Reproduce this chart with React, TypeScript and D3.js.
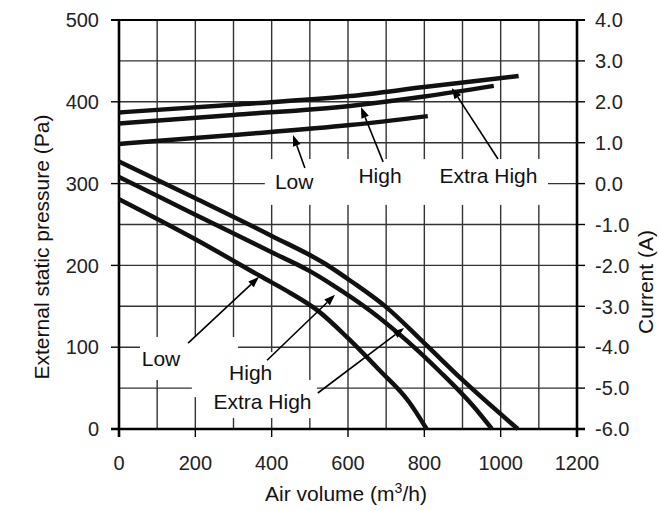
import React from 'react';
import * as d3 from 'd3';

// ---- data ----
const airTicks = [0, 200, 400, 600, 800, 1000, 1200];
const airGrid = [0, 100, 200, 300, 400, 500, 600, 700, 800, 900, 1000, 1100, 1200];
const pressureTicks = [0, 100, 200, 300, 400, 500];
const pressureGrid = [0, 50, 100, 150, 200, 250, 300, 350, 400, 450, 500];
const currentTicks = [-6, -5, -4, -3, -2, -1, 0, 1, 2, 3, 4];

// static pressure curves [air volume, Pa]
const pressureLow = [[0, 281], [200, 232], [370, 187], [450, 166], [520, 145], [600, 111], [680, 73], [760, 33], [806, 0]];
const pressureHigh = [[0, 308], [200, 262], [400, 216], [500, 193], [560, 176], [660, 144], [754, 108], [841, 70], [928, 28], [977, 0]];
const pressureExtra = [[0, 327], [200, 282], [400, 236], [540, 202], [610, 180], [700, 149], [800, 105], [900, 60], [1045, 0]];

// current curves [air volume, A]
const currentLow = [[0, 0.97], [300, 1.19], [605, 1.43], [809, 1.65]];
const currentHigh = [[0, 1.47], [300, 1.68], [605, 1.9], [800, 2.13], [982, 2.39]];
const currentExtra = [[0, 1.74], [300, 1.93], [605, 2.14], [800, 2.36], [1047, 2.63]];

// annotation labels (data coords: air, Pa)
const pressureLabels = [
  { text: 'Low', air: 110, pa: 77 },
  { text: 'High', air: 345, pa: 60 },
  { text: 'Extra High', air: 376, pa: 24.5 },
];
const currentLabels = [
  { text: 'Low', air: 459, pa: 293.4 },
  { text: 'High', air: 684, pa: 300.7 },
  { text: 'Extra High', air: 968, pa: 300.7 },
];
// white backing boxes [air0, air1, pa0, pa1]
const labelBoxes = [
  [55, 312, 60, 112.5],
  [191, 422, 39, 94],
  [212, 519, 13.4, 60],
  [382, 1124, 274, 330],
];
// pressure arrows [fromAir, fromPa, tipAir, tipPa]
const pressureArrows = [
  [181, 105, 367, 186],
  [388, 84, 566, 164],
  [521, 44, 747, 123.5],
];
// current arrows [fromAir, fromA, tipAir, tipA]
const currentArrows = [
  [487, 0.38, 456, 1.19],
  [692, 0.53, 634, 1.87],
  [993, 0.6, 872, 2.34],
];

const W = 659;
const H = 510;
const L = 119, R = 577, T = 20, B = 429;
const FONT = '"Liberation Sans", Arial, Helvetica, sans-serif';

const x = d3.scaleLinear().domain([0, 1200]).range([L, R]);
const yP = d3.scaleLinear().domain([0, 500]).range([B, T]);
const yC = d3.scaleLinear().domain([-6, 4]).range([B, T]);

function Arrow({ x1, y1, x2, y2 }: { x1: number; y1: number; x2: number; y2: number }) {
  const ang = Math.atan2(y2 - y1, x2 - x1);
  const hl = 11, hw = 4;
  const bx = x2 - hl * Math.cos(ang);
  const by = y2 - hl * Math.sin(ang);
  const px = -Math.sin(ang) * hw, py = Math.cos(ang) * hw;
  return (
    <g>
      <line x1={x1} y1={y1} x2={bx} y2={by} stroke="#000" strokeWidth={1.6} />
      <polygon points={`${x2},${y2} ${bx + px},${by + py} ${bx - px},${by - py}`} fill="#000" />
    </g>
  );
}

export default function App() {
  const lineP = d3.line<number[]>().x(d => x(d[0])).y(d => yP(d[1])).curve(d3.curveMonotoneX);
  const lineC = d3.line<number[]>().x(d => x(d[0])).y(d => yC(d[1])).curve(d3.curveMonotoneX);
  const gridColor = '#333';
  return (
    <svg width={W} height={H} style={{ position: 'absolute', left: 0, top: 0, background: '#fff' }} fontFamily={FONT}>
      <rect x={0} y={0} width={W} height={H} fill="#fff" />
      {/* grid */}
      {airGrid.map(a => (
        <line key={'gx' + a} x1={x(a)} x2={x(a)} y1={T} y2={B} stroke={gridColor} strokeWidth={1.4} />
      ))}
      {pressureGrid.map(p => (
        <line key={'gy' + p} x1={L} x2={R} y1={yP(p)} y2={yP(p)} stroke={gridColor} strokeWidth={1.4} />
      ))}
      {/* label backing boxes */}
      {labelBoxes.map((b, i) => (
        <rect key={'bx' + i} x={x(b[0])} y={yP(b[3])} width={x(b[1]) - x(b[0])} height={yP(b[2]) - yP(b[3])} fill="#fff" />
      ))}
      {/* axes frame */}
      <line x1={L} x2={L} y1={T} y2={B + 8} stroke="#000" strokeWidth={2.6} />
      <line x1={R} x2={R} y1={T} y2={B + 8} stroke="#000" strokeWidth={2.6} />
      <line x1={L - 8} x2={R + 8} y1={T} y2={T} stroke="#000" strokeWidth={2} />
      <line x1={L - 8} x2={R + 8} y1={B} y2={B} stroke="#000" strokeWidth={2.6} />
      {/* ticks */}
      {pressureTicks.map(p => (
        <g key={'pt' + p}>
          <line x1={L - 8} x2={L} y1={yP(p)} y2={yP(p)} stroke="#000" strokeWidth={1.4} />
          <text x={L - 20} y={yP(p)} dy="0.36em" textAnchor="end" fontSize={20} fill="#222">{p}</text>
        </g>
      ))}
      {currentTicks.map(c => (
        <g key={'ct' + c}>
          <line x1={R} x2={R + 8} y1={yC(c)} y2={yC(c)} stroke="#000" strokeWidth={1.4} />
          <text x={R + 18} y={yC(c)} dy="0.36em" textAnchor="start" fontSize={20} fill="#222">{c.toFixed(1)}</text>
        </g>
      ))}
      {airTicks.map(a => (
        <g key={'at' + a}>
          <line x1={x(a)} x2={x(a)} y1={B} y2={B + 8} stroke="#000" strokeWidth={1.4} />
          <text x={x(a)} y={470} textAnchor="middle" fontSize={20} fill="#222">{a}</text>
        </g>
      ))}
      {/* curves */}
      {[pressureLow, pressureHigh, pressureExtra].map((s, i) => (
        <path key={'pc' + i} d={lineP(s) || ''} fill="none" stroke="#111" strokeWidth={4.5} />
      ))}
      {[currentLow, currentHigh, currentExtra].map((s, i) => (
        <path key={'cc' + i} d={lineC(s) || ''} fill="none" stroke="#111" strokeWidth={4.5} />
      ))}
      {/* arrows */}
      {pressureArrows.map((a, i) => (
        <Arrow key={'pa' + i} x1={x(a[0])} y1={yP(a[1])} x2={x(a[2])} y2={yP(a[3])} />
      ))}
      {currentArrows.map((a, i) => (
        <Arrow key={'ca' + i} x1={x(a[0])} y1={yC(a[1])} x2={x(a[2])} y2={yC(a[3])} />
      ))}
      {/* labels */}
      {[...pressureLabels, ...currentLabels].map((l, i) => (
        <text key={'lb' + i} x={x(l.air)} y={yP(l.pa)} textAnchor="middle" fontSize={21} fill="#111">{l.text}</text>
      ))}
      {/* axis titles */}
      <text transform={`translate(41,247) rotate(-90)`} textAnchor="middle" dy="0.36em" fontSize={21} fill="#111">
        External static pressure (Pa)
      </text>
      <text transform={`translate(645,282) rotate(-90)`} textAnchor="middle" dy="0.36em" fontSize={21} fill="#111">
        Current (A)
      </text>
      <text x={346} y={501} textAnchor="middle" fontSize={21} fill="#111">
        Air volume (m<tspan dy={-8} fontSize={14}>3</tspan><tspan dy={8}>/h)</tspan>
      </text>
    </svg>
  );
}
